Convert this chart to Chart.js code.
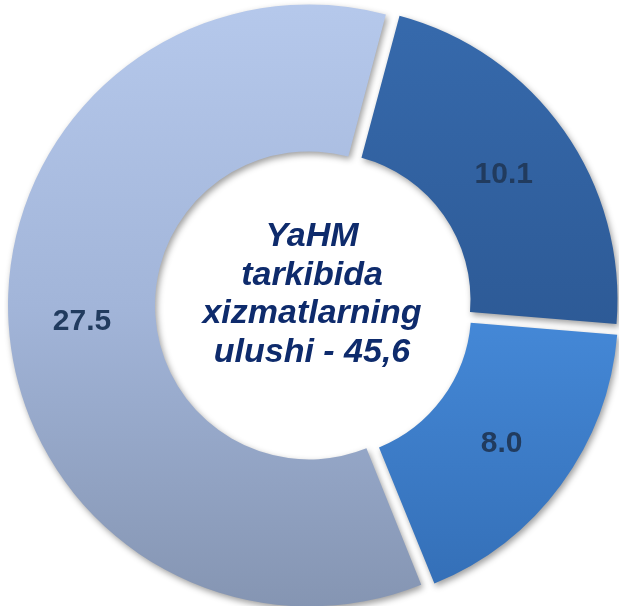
<!DOCTYPE html>
<html><head><meta charset="utf-8">
<script src="https://cdn.jsdelivr.net/npm/chart.js@4.4.1/dist/chart.umd.min.js"></script>
<style>
html,body{margin:0;padding:0;background:#ffffff;overflow:hidden;width:619px;height:606px;}
#wrap{position:absolute;left:4px;top:-7px;width:624px;height:624px;}
</style></head><body>
<div id="wrap"><canvas id="c" width="624" height="624"></canvas></div>
<script>
// ---- data ----
const categories = ['Segment 1', 'Segment 2', 'Segment 3'];
const values = [10.1, 8.0, 27.5];
const valueLabels = ['10.1', '8.0', '27.5'];
const centerLines = ['YaHM', 'tarkibida', 'xizmatlarning', 'ulushi - 45,6'];

// ---- styles ----
const gradientStops = [
  [[0, '#376BAE'], [0.55, '#2D5A96'], [1, '#244C80']],
  [[0, '#4A90E0'], [0.5, '#4589D8'], [1, '#326CB3']],
  [[0, '#B6C9EC'], [0.5, '#A2B5D9'], [1, '#8494B1']]
];
const sliceOffsets = [36, 36, 28];

function makeGradient(ctx) {
  const chart = ctx.chart;
  const a = chart.chartArea;
  const stops = gradientStops[ctx.dataIndex];
  if (!a) return stops[1][1];
  const g = chart.ctx.createLinearGradient(0, a.top, 0, a.bottom);
  stops.forEach(s => g.addColorStop(s[0], s[1]));
  return g;
}

const shadowPlugin = {
  id: 'shadow',
  beforeDatasetsDraw(chart) {
    const ctx = chart.ctx;
    ctx.save();
    ctx.shadowColor = 'rgba(0,0,0,0.38)';
    ctx.shadowBlur = 6;
    ctx.shadowOffsetX = 2;
    ctx.shadowOffsetY = 3;
  },
  afterDatasetsDraw(chart) {
    chart.ctx.restore();
  }
};

const valueLabelPlugin = {
  id: 'valueLabels',
  afterDatasetsDraw(chart) {
    const meta = chart.getDatasetMeta(0);
    const ctx = chart.ctx;
    ctx.save();
    ctx.font = 'bold 30px "Liberation Sans", Arial, sans-serif';
    ctx.fillStyle = '#213B5E';
    ctx.textAlign = 'center';
    ctx.textBaseline = 'middle';
    meta.data.forEach((el, i) => {
      const p = el.getProps(['x', 'y', 'startAngle', 'endAngle', 'innerRadius', 'outerRadius', 'circumference']);
      const off = (el.options.offset || 0) / 4;
      const fix = 1 - Math.sin(Math.min(Math.PI, p.circumference));
      const mid = (p.startAngle + p.endAngle) / 2;
      const r = off + off * fix + (p.innerRadius + p.outerRadius) / 2;
      ctx.fillText(valueLabels[i], p.x + Math.cos(mid) * r, p.y + Math.sin(mid) * r + 2);
    });
    ctx.restore();
  }
};

const centerTextPlugin = {
  id: 'centerText',
  afterDraw(chart) {
    const el = chart.getDatasetMeta(0).data[0];
    if (!el) return;
    const ctx = chart.ctx;
    ctx.save();
    ctx.font = 'italic bold 34px "Liberation Sans", Arial, sans-serif';
    ctx.fillStyle = '#0E2B6C';
    ctx.textAlign = 'center';
    ctx.textBaseline = 'alphabetic';
    const lh = 38.5;
    const first = -59;
    centerLines.forEach((t, i) => {
      ctx.fillText(t, el.x - 4, el.y + first + i * lh);
    });
    ctx.restore();
  }
};

new Chart(document.getElementById('c'), {
  type: 'doughnut',
  data: {
    labels: categories,
    datasets: [{
      data: values,
      backgroundColor: makeGradient,
      borderWidth: 0,
      offset: sliceOffsets,
      hoverOffset: 0
    }]
  },
  options: {
    responsive: false,
    animation: false,
    events: [],
    rotation: 15,
    cutout: '50%',
    layout: { padding: 0 },
    plugins: {
      legend: { display: false },
      tooltip: { enabled: false },
      title: { display: false }
    }
  },
  plugins: [shadowPlugin, valueLabelPlugin, centerTextPlugin]
});
</script>
</body></html>
